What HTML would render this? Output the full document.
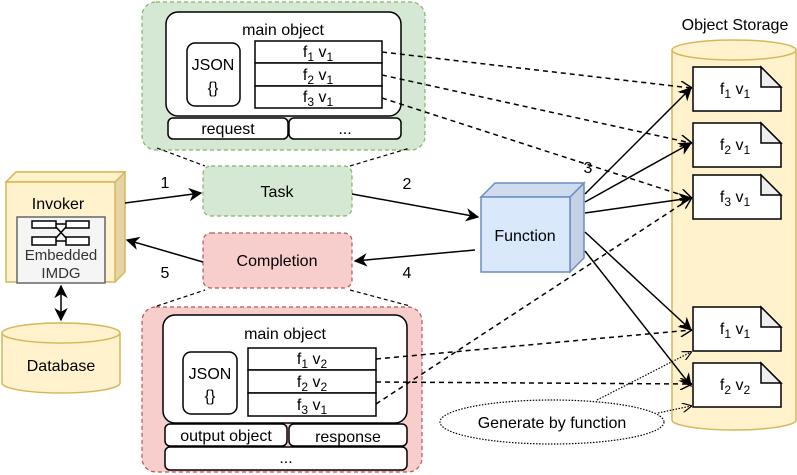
<!DOCTYPE html>
<html><head><meta charset="utf-8"><style>body{margin:0;background:#fff}svg{display:block;font-family:"Liberation Sans",Arial,sans-serif}</style></head><body>
<svg width="797" height="475" viewBox="0 0 797 475" xmlns="http://www.w3.org/2000/svg">
<defs>
<marker id="a" viewBox="0 0 10 10" refX="9" refY="5" markerWidth="9" markerHeight="9" orient="auto-start-reverse"><path d="M0,0 L10,5 L0,10 L3,5 z" fill="#000"/></marker>
<marker id="o" viewBox="0 0 10 10" refX="9" refY="5" markerWidth="8" markerHeight="8" orient="auto"><path d="M0,0 L10,5 L0,10" fill="none" stroke="#000" stroke-width="1.2"/></marker>
</defs>
<path d="M672,50 V420 A62,10 0 0 0 796,420 V50" fill="#fff2cc" stroke="#d6b656" stroke-width="1.5"/>
<ellipse cx="734" cy="50" rx="62" ry="10" fill="#fff2cc" stroke="#d6b656" stroke-width="1.5"/>
<text x="735" y="30" font-size="16" text-anchor="middle">Object Storage</text>
<g font-size="16" text-anchor="middle">
<g transform="translate(693,67)"><path d="M0,0 H68 L88,20 V44 H0 Z" fill="#fff" stroke="#000" stroke-width="1.5"/><path d="M68,0 V20 H88 Z" fill="#eee" stroke="#000" stroke-width="1.5"/><text x="42" y="27">f<tspan font-size="12" dy="4">1</tspan><tspan dy="-4"> v</tspan><tspan font-size="12" dy="4">1</tspan></text></g>
<g transform="translate(693,123)"><path d="M0,0 H68 L88,20 V44 H0 Z" fill="#fff" stroke="#000" stroke-width="1.5"/><path d="M68,0 V20 H88 Z" fill="#eee" stroke="#000" stroke-width="1.5"/><text x="42" y="27">f<tspan font-size="12" dy="4">2</tspan><tspan dy="-4"> v</tspan><tspan font-size="12" dy="4">1</tspan></text></g>
<g transform="translate(693,175)"><path d="M0,0 H68 L88,20 V44 H0 Z" fill="#fff" stroke="#000" stroke-width="1.5"/><path d="M68,0 V20 H88 Z" fill="#eee" stroke="#000" stroke-width="1.5"/><text x="42" y="27">f<tspan font-size="12" dy="4">3</tspan><tspan dy="-4"> v</tspan><tspan font-size="12" dy="4">1</tspan></text></g>
<g transform="translate(693,307)"><path d="M0,0 H68 L88,20 V44 H0 Z" fill="#fff" stroke="#000" stroke-width="1.5"/><path d="M68,0 V20 H88 Z" fill="#eee" stroke="#000" stroke-width="1.5"/><text x="42" y="27">f<tspan font-size="12" dy="4">1</tspan><tspan dy="-4"> v</tspan><tspan font-size="12" dy="4">1</tspan></text></g>
<g transform="translate(693,363)"><path d="M0,0 H68 L88,20 V44 H0 Z" fill="#fff" stroke="#000" stroke-width="1.5"/><path d="M68,0 V20 H88 Z" fill="#eee" stroke="#000" stroke-width="1.5"/><text x="42" y="27">f<tspan font-size="12" dy="4">2</tspan><tspan dy="-4"> v</tspan><tspan font-size="12" dy="4">2</tspan></text></g>
</g>
<rect x="142" y="2" width="283" height="148" rx="14" fill="#d5e8d4" stroke="#82b366" stroke-width="1.2" stroke-dasharray="4 3"/>
<rect x="166" y="12" width="235" height="104" rx="12" fill="#fff" stroke="#000" stroke-width="1.5"/>
<text x="283" y="35" font-size="16" text-anchor="middle">main object</text>
<rect x="187" y="43" width="53" height="63" rx="8" fill="#fff" stroke="#000" stroke-width="1.5"/>
<text x="213" y="70" font-size="16" text-anchor="middle">JSON</text><text x="213" y="93" font-size="16" text-anchor="middle">{}</text>
<g fill="#fff" stroke="#000" stroke-width="1.5"><rect x="255" y="41" width="127" height="22"/><rect x="255" y="63" width="127" height="23"/><rect x="255" y="86" width="127" height="22"/></g>
<g font-size="16" text-anchor="middle">
<text x="318" y="57">f<tspan font-size="12" dy="4">1</tspan><tspan dy="-4"> v</tspan><tspan font-size="12" dy="4">1</tspan></text>
<text x="318" y="80">f<tspan font-size="12" dy="4">2</tspan><tspan dy="-4"> v</tspan><tspan font-size="12" dy="4">1</tspan></text>
<text x="318" y="102">f<tspan font-size="12" dy="4">3</tspan><tspan dy="-4"> v</tspan><tspan font-size="12" dy="4">1</tspan></text>
</g>
<rect x="168" y="118" width="120" height="21" rx="5" fill="#fff" stroke="#000" stroke-width="1.5"/>
<rect x="289" y="118" width="112" height="21" rx="5" fill="#fff" stroke="#000" stroke-width="1.5"/>
<text x="228" y="134" font-size="16" text-anchor="middle">request</text><text x="345" y="134" font-size="16" text-anchor="middle">...</text>
<g stroke="#000" stroke-width="1.2" stroke-dasharray="4 3" fill="none">
<path d="M157,148 L205,166"/><path d="M350,166 L410,148"/>
<path d="M157,306 L205,290"/><path d="M350,290 L410,306"/>
</g>
<rect x="203" y="166" width="149" height="50" rx="8" fill="#d5e8d4" stroke="#82b366" stroke-width="1.2" stroke-dasharray="4 3"/>
<text x="277" y="197" font-size="16" text-anchor="middle">Task</text>
<rect x="203" y="233" width="149" height="55" rx="8" fill="#f8cecc" stroke="#b85450" stroke-width="1.2" stroke-dasharray="4 3"/>
<text x="277" y="266" font-size="16" text-anchor="middle">Completion</text>
<rect x="142" y="307" width="280" height="165" rx="14" fill="#f8cecc" stroke="#b85450" stroke-width="1.2" stroke-dasharray="4 3"/>
<rect x="163" y="315" width="244" height="108" rx="12" fill="#fff" stroke="#000" stroke-width="1.5"/>
<text x="285" y="339" font-size="16" text-anchor="middle">main object</text>
<rect x="183" y="352" width="54" height="62" rx="8" fill="#fff" stroke="#000" stroke-width="1.5"/>
<text x="210" y="379" font-size="16" text-anchor="middle">JSON</text><text x="210" y="401" font-size="16" text-anchor="middle">{}</text>
<g fill="#fff" stroke="#000" stroke-width="1.5"><rect x="248" y="348" width="128" height="22"/><rect x="248" y="370" width="128" height="23"/><rect x="248" y="393" width="128" height="23"/></g>
<g font-size="16" text-anchor="middle">
<text x="312" y="364">f<tspan font-size="12" dy="4">1</tspan><tspan dy="-4"> v</tspan><tspan font-size="12" dy="4">2</tspan></text>
<text x="312" y="387">f<tspan font-size="12" dy="4">2</tspan><tspan dy="-4"> v</tspan><tspan font-size="12" dy="4">2</tspan></text>
<text x="312" y="410">f<tspan font-size="12" dy="4">3</tspan><tspan dy="-4"> v</tspan><tspan font-size="12" dy="4">1</tspan></text>
</g>
<rect x="165" y="424" width="122" height="22" rx="5" fill="#fff" stroke="#000" stroke-width="1.5"/>
<rect x="289" y="424" width="118" height="22" rx="5" fill="#fff" stroke="#000" stroke-width="1.5"/>
<rect x="165" y="447" width="242" height="23" rx="5" fill="#fff" stroke="#000" stroke-width="1.5"/>
<text x="226" y="441" font-size="16" text-anchor="middle">output object</text><text x="348" y="442" font-size="16" text-anchor="middle">response</text><text x="286" y="463" font-size="16" text-anchor="middle">...</text>
<path d="M6,182 L16,172 H125 V272 L115,282 Z" fill="#e6d4a6" stroke="#d6b656" stroke-width="1.5"/>
<path d="M6,182 L16,172 H125 L115,182 Z" fill="#fff2cc" stroke="#d6b656" stroke-width="1.5"/>
<rect x="6" y="182" width="109" height="100" fill="#fff2cc" stroke="#d6b656" stroke-width="1.5"/>
<text x="58" y="209" font-size="16" text-anchor="middle">Invoker</text>
<rect x="17" y="217" width="88" height="66" fill="#f5f5f5" stroke="#666" stroke-width="1.5"/>
<g fill="#fff" stroke="#000" stroke-width="1.5"><rect x="32" y="221" width="24" height="7"/><rect x="66" y="221" width="23" height="7"/><rect x="32" y="237" width="24" height="8"/><rect x="66" y="237" width="23" height="8"/><path d="M56,224 H66 M56,241 H66 M56,227 L66,238 M56,238 L66,227" fill="none"/></g>
<text x="61" y="260" font-size="15" text-anchor="middle" fill="#333">Embedded</text>
<text x="61" y="278" font-size="15" text-anchor="middle" fill="#333">IMDG</text>
<path d="M2,333 V383 A59,10 0 0 0 120,383 V333" fill="#fff2cc" stroke="#d6b656" stroke-width="1.5"/>
<ellipse cx="61" cy="333" rx="59" ry="10" fill="#fff2cc" stroke="#d6b656" stroke-width="1.5"/>
<text x="61" y="371" font-size="16" text-anchor="middle">Database</text>
<path d="M61,286 V320" stroke="#000" stroke-width="1.5" marker-start="url(#a)" marker-end="url(#a)"/>
<path d="M570,197 L584,183 V258 L570,272 Z" fill="#c4d1e6" stroke="#6c8ebf" stroke-width="1.5"/>
<path d="M481,197 L495,183 H584 L570,197 Z" fill="#cfdcf0" stroke="#6c8ebf" stroke-width="1.5"/>
<rect x="481" y="197" width="89" height="75" fill="#dae8fc" stroke="#6c8ebf" stroke-width="1.5"/>
<text x="525" y="241" font-size="16" text-anchor="middle">Function</text>
<g stroke="#000" stroke-width="1.5" fill="none" marker-end="url(#a)">
<path d="M125,203 L201,193"/><path d="M352,194 L478,217"/><path d="M475,250 L355,261"/><path d="M203,262 L127,240"/>
<path d="M585,194 L691,88"/><path d="M585,202 L691,143"/><path d="M585,213 L691,198"/><path d="M585,232 L691,330"/><path d="M585,251 L691,386"/>
</g>
<g font-size="16" text-anchor="middle"><text x="165" y="188">1</text><text x="407" y="189">2</text><text x="588" y="173">3</text><text x="407" y="278">4</text><text x="165" y="278">5</text></g>
<g stroke="#000" stroke-width="1.5" fill="none" stroke-dasharray="5 4" marker-end="url(#o)">
<path d="M382,52 L691,88"/><path d="M382,75 L691,143"/><path d="M382,98 L691,198"/>
<path d="M376,359 L691,330"/><path d="M376,382 L691,384"/><path d="M376,404 L691,198"/>
</g>
<ellipse cx="552" cy="422" rx="112" ry="22" fill="#fff" stroke="#000" stroke-width="1.2" stroke-dasharray="1.5 1.5"/>
<text x="552" y="428" font-size="16" text-anchor="middle">Generate by function</text>
<g stroke="#000" stroke-width="1.2" fill="none" stroke-dasharray="1.5 1.5" marker-end="url(#o)">
<path d="M597,400 L691,352"/><path d="M658,413 L691,406"/>
</g>
</svg>
</body></html>
